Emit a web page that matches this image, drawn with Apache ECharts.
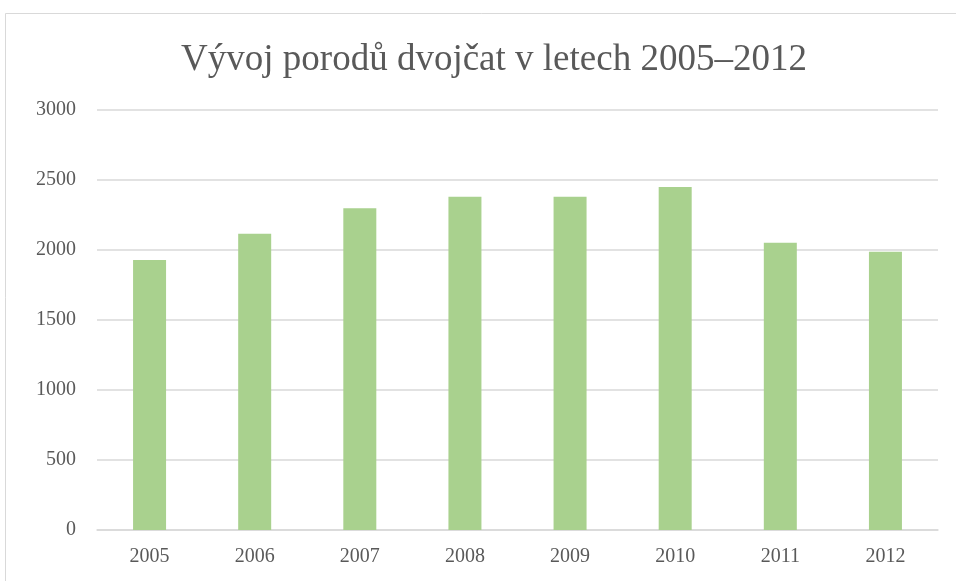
<!DOCTYPE html>
<html>
<head>
<meta charset="utf-8">
<script src="https://cdn.jsdelivr.net/npm/echarts@6/dist/echarts.min.js"></script>
<style>
  html, body { margin: 0; padding: 0; background: #fff; }
  #chart { width: 956px; height: 581px; }
</style>
</head>
<body>
<div id="chart"></div>
<script>
// data
const years = ["2005", "2006", "2007", "2008", "2009", "2010", "2011", "2012"];
const births = [1929, 2116, 2298, 2381, 2380, 2450, 2052, 1988];
const yTicks = [0, 500, 1000, 1500, 2000, 2500, 3000];

const chart = echarts.init(document.getElementById("chart"));
const option = {
  backgroundColor: "#fff",
  animation: false,
  graphic: [
    {
      // chart frame
      type: "rect",
      shape: { x: 5.5, y: 13.5, width: 1000, height: 700 },
      style: { fill: "none", stroke: "#d9d9d9", lineWidth: 1 },
      silent: true,
    },
  ],
  title: {
    text: "Vývoj porodů dvojčat v letech 2005–2012",
    left: 489,
    textAlign: "center",
    top: 37,
    textStyle: {
      fontFamily: "Liberation Serif",
      fontWeight: "normal",
      fontSize: 37,
      color: "#595959",
    },
  },
  grid: { left: 97, right: 18, top: 110, bottom: 51 },
  xAxis: {
    type: "category",
    data: years,
    axisLine: { lineStyle: { color: "#d9d9d9", width: 1.5 } },
    axisTick: { show: false },
    axisLabel: {
      fontFamily: "Liberation Serif",
      fontSize: 20,
      color: "#595959",
      margin: 17,
    },
  },
  yAxis: {
    type: "value",
    min: yTicks[0],
    max: yTicks[yTicks.length - 1],
    interval: 500,
    axisLine: { show: false },
    axisTick: { show: false },
    splitLine: { lineStyle: { color: "#d9d9d9", width: 1.5 } },
    axisLabel: {
      fontFamily: "Liberation Serif",
      fontSize: 20,
      color: "#595959",
      margin: 21,
      formatter: (v) => String(v),
    },
  },
  series: [
    {
      type: "bar",
      data: births,
      barWidth: 33,
      itemStyle: { color: "#a9d18e" },
    },
  ],
};
chart.setOption(option);
</script>
</body>
</html>
